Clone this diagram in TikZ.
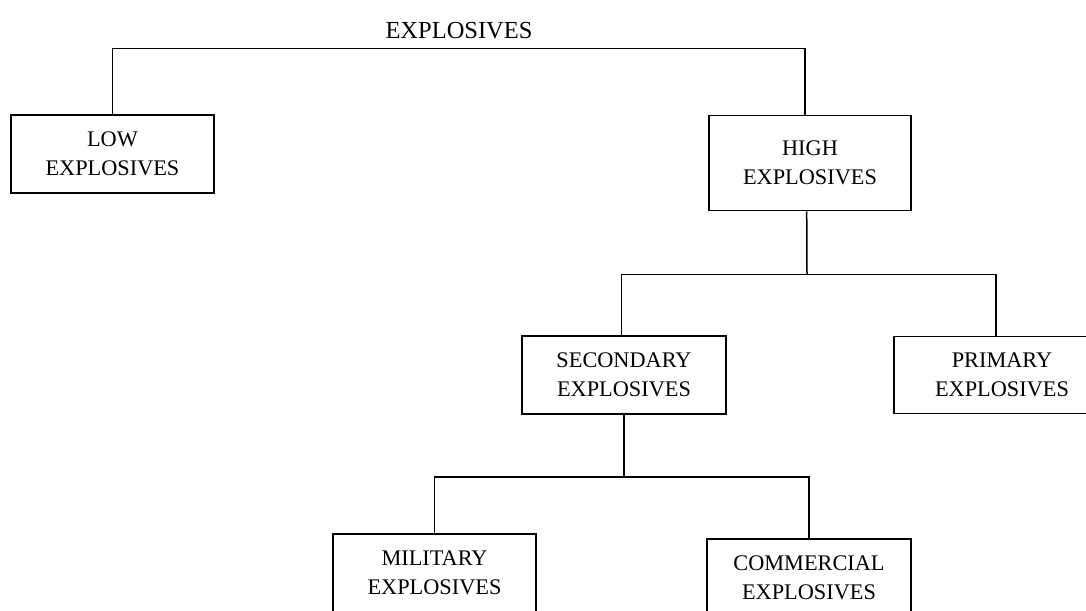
\documentclass[tikz,border=0pt]{standalone}
\usepackage{fontspec}
\setmainfont{Liberation Serif}
\begin{document}
\begin{tikzpicture}[x=1pt,y=-1pt,
  box/.style={draw=black, line width=1.5pt, rectangle, align=center, inner sep=0pt,
    minimum width=203pt, minimum height=78pt, font=\fontsize{22.3}{29}\selectfont},
  conn/.style={draw=black, line width=1.5pt},
  title/.style={font=\fontsize{24.5}{29}\selectfont, inner sep=0pt, anchor=base}]
\useasboundingbox (0,0) rectangle (1086,610);
\node[title] (top) at (459,38) {EXPLOSIVES};
\node[box] (low) at (112.5,154) {LOW\\EXPLOSIVES};
\node[box, minimum width=202pt, minimum height=95pt] (high) at (810,163) {HIGH\\EXPLOSIVES};
\node[box, minimum width=204pt] (sec) at (624,375) {SECONDARY\\EXPLOSIVES};
\node[box, minimum width=216pt, minimum height=77pt] (pri) at (1002,375) {PRIMARY\\EXPLOSIVES};
\node[box] (mil) at (434.5,573) {MILITARY\\EXPLOSIVES};
\node[box, minimum width=204pt] (com) at (809,578) {COMMERCIAL\\EXPLOSIVES};
\coordinate (bus1) at (459,48.5);
\coordinate (bus2) at (807,274.5);
\coordinate (bus3) at (624,477);
\draw[conn] ([xshift=0.2pt]low.north) |- (bus1) -| ([xshift=-5pt]high.north);
\draw[conn] ([xshift=-3.3pt]high.south) -- (bus2);
\draw[conn] ([xshift=-2.3pt]sec.north) |- (bus2) -| ([xshift=-6pt]pri.north);
\draw[conn] (sec.south) -- (bus3);
\draw[conn] (mil.north) |- (bus3) -| (com.north);
\end{tikzpicture}
\end{document}
